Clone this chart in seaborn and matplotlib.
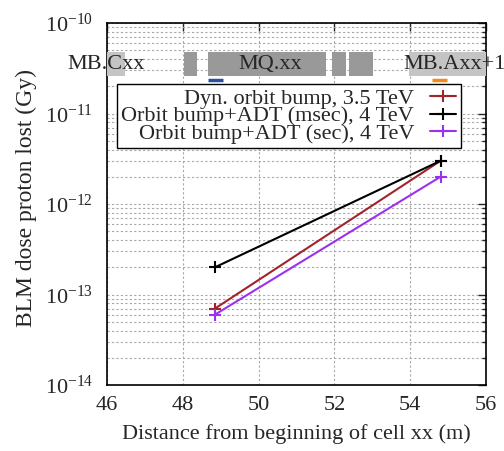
import numpy as np
import pandas as pd
import matplotlib
matplotlib.use("Agg")
import matplotlib.pyplot as plt
import seaborn as sns
from matplotlib.patches import Rectangle
from matplotlib.lines import Line2D

# ---- data ----
series_names = ["Dyn. orbit bump, 3.5 TeV",
                "Orbit bump+ADT (msec), 4 TeV",
                "Orbit bump+ADT (sec), 4 TeV"]
x_pos = [48.85, 54.8]
dyn_35 = [7e-14, 3e-12]
adt_msec = [2e-13, 3e-12]
adt_sec = [6e-14, 2e-12]
colors = ["#a0242a", "#000000", "#9b30f0"]
x_ticks = [46, 48, 50, 52, 54, 56]
y_ticks = [1e-14, 1e-13, 1e-12, 1e-11, 1e-10]
y_tick_labels = [r"$10^{-14}$", r"$10^{-13}$", r"$10^{-12}$", r"$10^{-11}$", r"$10^{-10}$"]

# magnet layout (x start, x end, shade, label)
magnets_x0 = [45.5, 48.03, 48.66, 51.94, 52.39, 53.97]
magnets_x1 = [46.47, 48.37, 51.78, 52.30, 53.02, 56.5]
magnets_shade = ["light", "dark", "dark", "dark", "dark", "light"]
magnet_labels = ["MB.Cxx", "MQ.xx", "MB.Axx+1"]
magnet_label_x = [45.97, 50.3, 55.16]
bar_y0, bar_y1 = 2.6e-11, 4.8e-11
label_y = 3.45e-11
marker_bars = [(48.66, 49.06, "#2b4ea0"), (54.57, 54.97, "#f08a1a")]
marker_bar_y = 2.35e-11

sns.set_style("white")
plt.rcParams['font.family'] = ['Liberation Serif', 'DejaVu Serif']
plt.rcParams['mathtext.fontset'] = 'custom'
plt.rcParams['mathtext.rm'] = 'Liberation Serif'
plt.rcParams['mathtext.it'] = 'Liberation Serif:italic'
plt.rcParams['font.size'] = 16

fig = plt.figure(figsize=(5.04, 4.51), dpi=100)
ax = fig.add_axes([107/504, 1-385/451, (486-107)/504, (385-23)/451])

df = pd.DataFrame({
    "x": x_pos * 3,
    "y": dyn_35 + adt_msec + adt_sec,
    "series": [series_names[0]]*2 + [series_names[1]]*2 + [series_names[2]]*2,
})
sns.lineplot(data=df, x="x", y="y", hue="series", hue_order=series_names,
             palette=colors, marker="+", markersize=8,
             linewidth=1.5, ax=ax, legend=False, zorder=5)
for ln in ax.lines:
    ln.set_markeredgecolor(ln.get_color())
    ln.set_markeredgewidth(1.5)

ax.set_yscale("log")
ax.set_xlim(46, 56)
ax.set_ylim(1e-14, 1e-10)
ax.set_xticks(x_ticks)
ax.set_yticks(y_ticks)
ax.set_yticklabels(y_tick_labels)
ax.set_xlabel("Distance from beginning of cell xx (m)", fontsize=16)
ax.set_ylabel("BLM dose proton lost (Gy)", fontsize=17)
ax.xaxis.set_label_coords(0.5, -(424-385)/362)
ax.yaxis.set_label_coords(-(107-37)/379, 0.517)

ax.grid(True, which="both", axis="y", color="#a8a8a8", linestyle=(0, (2, 2)), linewidth=0.8)
ax.grid(True, which="major", axis="x", color="#a8a8a8", linestyle=(0, (2, 2)), linewidth=0.8)
ax.set_axisbelow(True)
ax.tick_params(which="both", direction="in", top=True, right=True, labelsize=16)
ax.tick_params(which="major", length=6, width=1)
ax.tick_params(which="minor", length=3, width=1)
ax.tick_params(axis="x", which="major", pad=8)
ax.tick_params(axis="y", which="major", pad=10)
ax.xaxis.set_minor_locator(matplotlib.ticker.NullLocator())
for s in ax.spines.values():
    s.set_linewidth(1.2)
    s.set_color("black")

for x0, x1, sh in zip(magnets_x0, magnets_x1, magnets_shade):
    c = "#c4c4c4" if sh == "light" else "#999999"
    ax.add_patch(Rectangle((x0, bar_y0), x1 - x0, bar_y1 - bar_y0, facecolor=c,
                           edgecolor="none", zorder=3))
for lab, lx in zip(magnet_labels, magnet_label_x):
    ax.text(lx, label_y, lab, ha="center", va="center", fontsize=16, zorder=4, clip_on=False)
for x0, x1, c in marker_bars:
    ax.plot([x0, x1], [marker_bar_y, marker_bar_y], color=c, linewidth=2.5,
            solid_capstyle="butt", zorder=4)

handles = [Line2D([0], [0], color=c, linewidth=1.5, marker="+", markersize=8,
                  markeredgewidth=1.5) for c in colors]
leg = ax.legend(handles, series_names, loc="upper left",
                bbox_to_anchor=((117-107)/379, 1-(84-23)/362),
                markerfirst=False, frameon=True, fancybox=False, framealpha=1,
                edgecolor="black", fontsize=16, handlelength=1.2,
                handletextpad=0.7, labelspacing=-0.14, borderpad=0.2,
                borderaxespad=0)
leg.get_frame().set_linewidth(1.0)
leg.set_zorder(10)

fig.savefig("out.png", dpi=100)
